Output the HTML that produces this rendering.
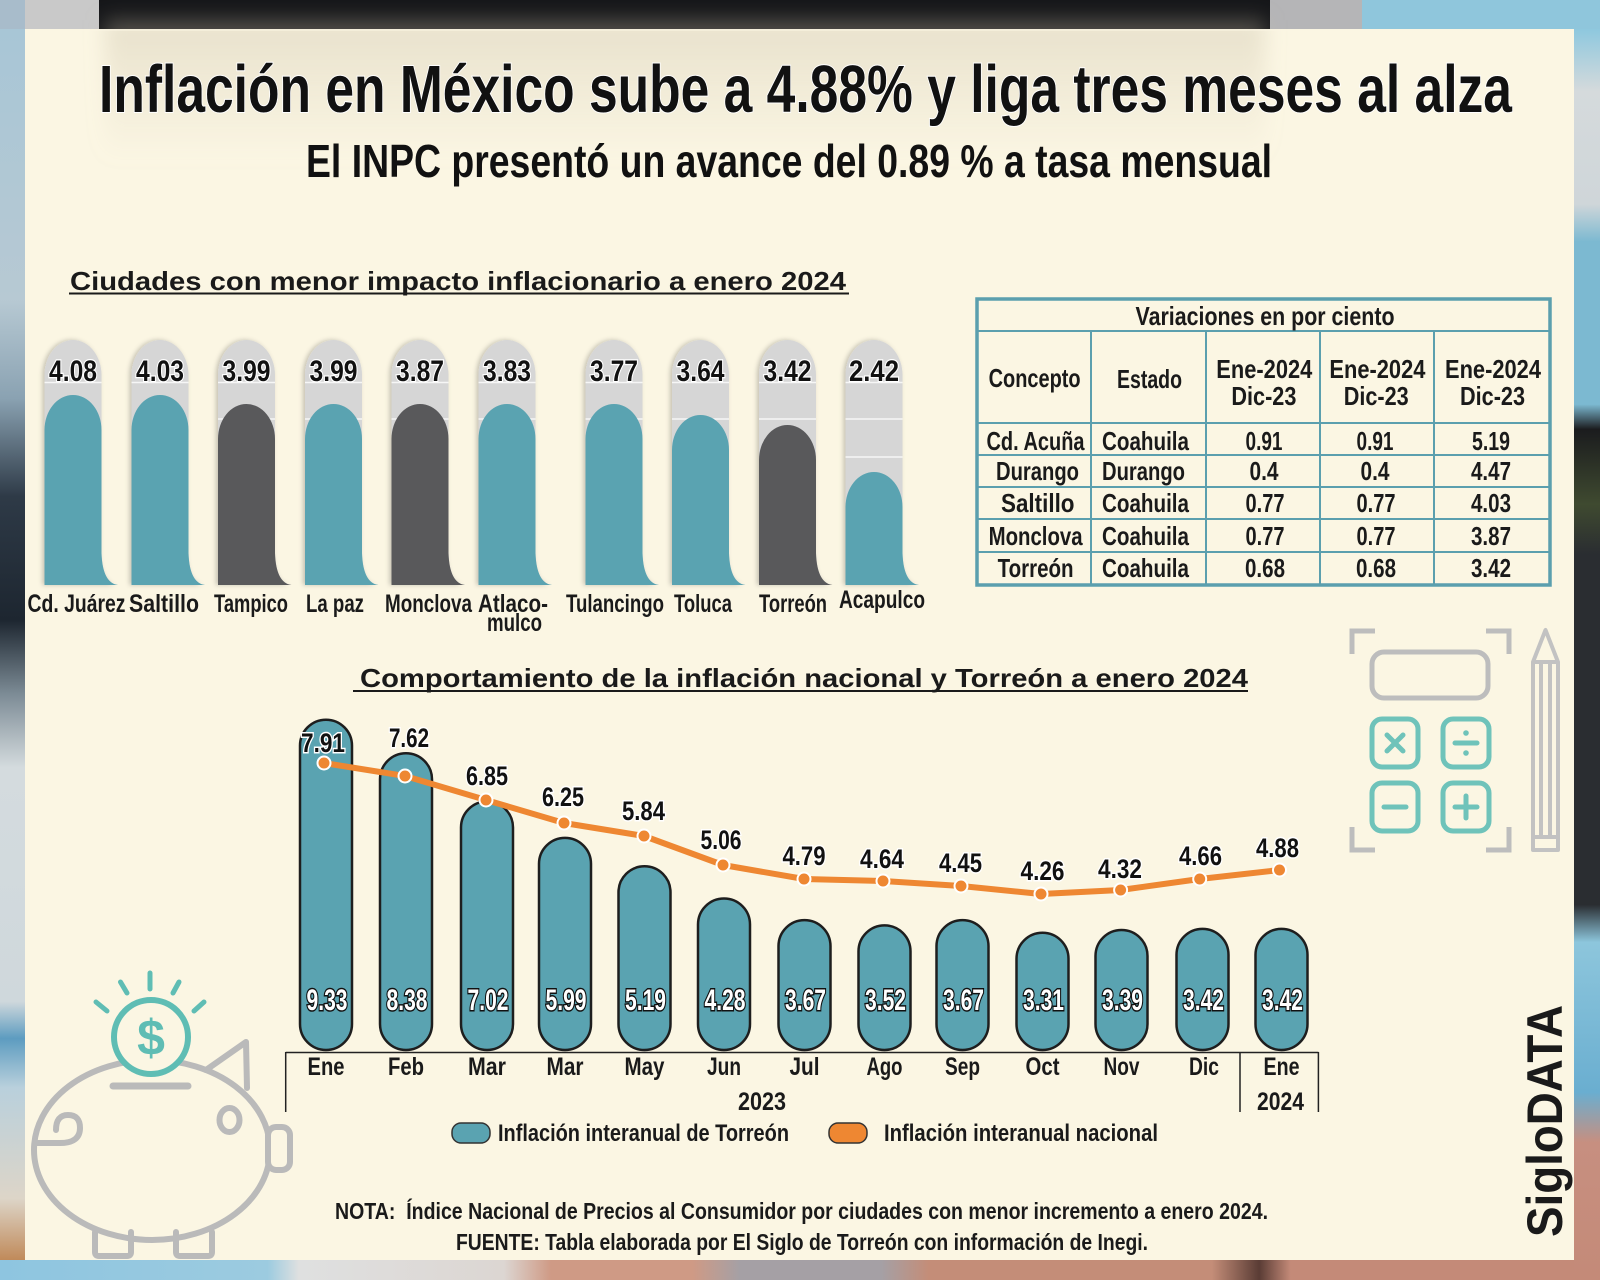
<!DOCTYPE html>
<html><head><meta charset="utf-8"><style>
html,body{margin:0;padding:0;background:#fbf6e3;}
svg{display:block;}
text{font-family:"Liberation Sans Narrow","Liberation Sans",sans-serif;font-weight:bold;}
</style></head><body>
<svg width="1600" height="1280" viewBox="0 0 1600 1280" xmlns="http://www.w3.org/2000/svg">
<defs>
<linearGradient id="gl" x1="0" y1="0" x2="0" y2="1">
<stop offset="0" stop-color="#a8c6d6"/><stop offset="0.22" stop-color="#b7c9d3"/><stop offset="0.3" stop-color="#8aa2b2"/><stop offset="0.38" stop-color="#2e3a47"/><stop offset="0.48" stop-color="#1d2630"/><stop offset="0.54" stop-color="#7c8b95"/><stop offset="0.6" stop-color="#d4dbde"/><stop offset="0.79" stop-color="#cfd8dc"/><stop offset="0.82" stop-color="#5d9cc0"/><stop offset="0.86" stop-color="#b9d0dc"/><stop offset="0.95" stop-color="#ddd5c8"/><stop offset="1" stop-color="#c08a5a"/>
</linearGradient>
<linearGradient id="gr" x1="0" y1="0" x2="0" y2="1">
<stop offset="0" stop-color="#8ec8de"/><stop offset="0.05" stop-color="#d5dadc"/><stop offset="0.14" stop-color="#cfd6d9"/><stop offset="0.17" stop-color="#7cb9d1"/><stop offset="0.3" stop-color="#7cb9d1"/><stop offset="0.32" stop-color="#1b1c1e"/><stop offset="0.38" stop-color="#3f4a30"/><stop offset="0.42" stop-color="#2a2d31"/><stop offset="0.7" stop-color="#2a2d31"/><stop offset="0.73" stop-color="#8dc6dc"/><stop offset="0.85" stop-color="#6aaed0"/><stop offset="0.89" stop-color="#c78f80"/><stop offset="1" stop-color="#c48a78"/>
</linearGradient>
<linearGradient id="gb" x1="0" y1="0" x2="1" y2="0">
<stop offset="0" stop-color="#8ec5e0"/><stop offset="0.17" stop-color="#9ccbe0"/><stop offset="0.19" stop-color="#dfe0e0"/><stop offset="0.32" stop-color="#dcd6d2"/><stop offset="0.35" stop-color="#cf9a85"/><stop offset="0.44" stop-color="#cf9a85"/><stop offset="0.47" stop-color="#a5a0a5"/><stop offset="0.56" stop-color="#a5a0a5"/><stop offset="0.59" stop-color="#c48d78"/><stop offset="0.77" stop-color="#c48d78"/><stop offset="0.8" stop-color="#5a3c35"/><stop offset="0.82" stop-color="#c48a78"/><stop offset="1" stop-color="#c48a78"/>
</linearGradient>
<linearGradient id="gtop" x1="0" y1="0" x2="0" y2="1">
<stop offset="0" stop-color="#c8bea6" stop-opacity="0.38"/><stop offset="0.5" stop-color="#c8bea6" stop-opacity="0.18"/><stop offset="1" stop-color="#c8bea6" stop-opacity="0"/>
</linearGradient>
<filter id="blur" x="-10%" y="-50%" width="120%" height="200%"><feGaussianBlur stdDeviation="10"/></filter>
<filter id="sh" x="-30%" y="-10%" width="160%" height="120%"><feDropShadow dx="-2" dy="0" stdDeviation="2.5" flood-color="#000" flood-opacity="0.22"/></filter>
</defs>

<!-- background -->
<rect x="0" y="0" width="1600" height="1280" fill="#c8c8c8"/>
<rect x="0" y="0" width="25" height="29" fill="#a8bccb"/>
<rect x="25" y="0" width="74" height="29" fill="#c9c9c9"/>
<rect x="99" y="0" width="1171" height="29" fill="#151619"/>
<rect x="1270" y="0" width="92" height="29" fill="#b5b5b7"/>
<rect x="1362" y="0" width="238" height="29" fill="#8fc6dc"/>
<rect x="0" y="29" width="25" height="1231" fill="url(#gl)"/>
<rect x="1574" y="29" width="26" height="1251" fill="url(#gr)"/>
<rect x="0" y="1260" width="1574" height="20" fill="url(#gb)"/>

<!-- panel -->
<rect x="25" y="29" width="1549" height="1231" fill="#fbf6e3"/>
<g clip-path="none">
<rect x="105" y="20" width="1160" height="140" fill="url(#gtop)" filter="url(#blur)"/>
</g>
<rect x="25" y="29" width="1549" height="2" fill="#fbf6e3" opacity="0.5"/>

<!-- titles -->
<text x="99" y="112" font-size="67" textLength="1413" lengthAdjust="spacingAndGlyphs" fill="#111" stroke="#fff" stroke-width="2" paint-order="stroke">Inflación en México sube a 4.88% y liga tres meses al alza</text>
<text x="306" y="177" font-size="46" textLength="966" lengthAdjust="spacingAndGlyphs" fill="#111">El INPC presentó un avance del 0.89 % a tasa mensual</text>

<!-- heading 1 -->
<text x="70" y="290" font-size="26" textLength="776" lengthAdjust="spacingAndGlyphs" fill="#1a1a1a">Ciudades con menor impacto inflacionario a enero 2024</text>
<rect x="69" y="292.5" width="780" height="2" fill="#1a1a1a"/>

<!-- city bars -->
<g filter="url(#sh)" fill="#d6d6d6">
<path d="M44.5,585 L44.5,375 A28.5,35 0 0 1 101.5,375 L101.5,553 Q102.5,583 118,585 Z"/>
<path d="M131.5,585 L131.5,375 A28.5,35 0 0 1 188.5,375 L188.5,553 Q189.5,583 205,585 Z"/>
<path d="M218,585 L218,375 A28.5,35 0 0 1 275,375 L275,553 Q276,583 291.5,585 Z"/>
<path d="M305,585 L305,375 A28.5,35 0 0 1 362,375 L362,553 Q363,583 378.5,585 Z"/>
<path d="M391.5,585 L391.5,375 A28.5,35 0 0 1 448.5,375 L448.5,553 Q449.5,583 465,585 Z"/>
<path d="M478.5,585 L478.5,375 A28.5,35 0 0 1 535.5,375 L535.5,553 Q536.5,583 552,585 Z"/>
<path d="M585.5,585 L585.5,375 A28.5,35 0 0 1 642.5,375 L642.5,553 Q643.5,583 659,585 Z"/>
<path d="M672,585 L672,375 A28.5,35 0 0 1 729,375 L729,553 Q730,583 745.5,585 Z"/>
<path d="M759,585 L759,375 A28.5,35 0 0 1 816,375 L816,553 Q817,583 832.5,585 Z"/>
<path d="M845.5,585 L845.5,375 A28.5,35 0 0 1 902.5,375 L902.5,553 Q903.5,583 919,585 Z"/>
</g>
<g stroke="#f6f6f6" stroke-width="1.5">
<line x1="44.5" x2="101.5" y1="382.5" y2="382.5"/><line x1="131.5" x2="188.5" y1="382.5" y2="382.5"/><line x1="218" x2="275" y1="382.5" y2="382.5"/><line x1="305" x2="362" y1="382.5" y2="382.5"/><line x1="391.5" x2="448.5" y1="382.5" y2="382.5"/><line x1="478.5" x2="535.5" y1="382.5" y2="382.5"/><line x1="585.5" x2="642.5" y1="382.5" y2="382.5"/><line x1="672" x2="729" y1="382.5" y2="382.5"/><line x1="759" x2="816" y1="382.5" y2="382.5"/><line x1="845.5" x2="902.5" y1="382.5" y2="382.5"/>
<line x1="218" x2="275" y1="419" y2="419"/><line x1="305" x2="362" y1="419" y2="419"/><line x1="391.5" x2="448.5" y1="419" y2="419"/><line x1="478.5" x2="535.5" y1="419" y2="419"/><line x1="585.5" x2="642.5" y1="419" y2="419"/><line x1="672" x2="729" y1="419" y2="419"/><line x1="759" x2="816" y1="419" y2="419"/><line x1="845.5" x2="902.5" y1="419" y2="419"/>
<line x1="845.5" x2="902.5" y1="457" y2="457"/>
</g>
<path fill="#5aa3b1" d="M44.5,585 L44.5,430 A28.5,35 0 0 1 101.5,430 L101.5,553 Q102.5,583 118,585 Z"/>
<path fill="#5aa3b1" d="M131.5,585 L131.5,430 A28.5,35 0 0 1 188.5,430 L188.5,553 Q189.5,583 205,585 Z"/>
<path fill="#59595b" d="M218,585 L218,439 A28.5,35 0 0 1 275,439 L275,553 Q276,583 291.5,585 Z"/>
<path fill="#5aa3b1" d="M305,585 L305,439 A28.5,35 0 0 1 362,439 L362,553 Q363,583 378.5,585 Z"/>
<path fill="#59595b" d="M391.5,585 L391.5,439 A28.5,35 0 0 1 448.5,439 L448.5,553 Q449.5,583 465,585 Z"/>
<path fill="#5aa3b1" d="M478.5,585 L478.5,439 A28.5,35 0 0 1 535.5,439 L535.5,553 Q536.5,583 552,585 Z"/>
<path fill="#5aa3b1" d="M585.5,585 L585.5,439 A28.5,35 0 0 1 642.5,439 L642.5,553 Q643.5,583 659,585 Z"/>
<path fill="#5aa3b1" d="M672,585 L672,450 A28.5,35 0 0 1 729,450 L729,553 Q730,583 745.5,585 Z"/>
<path fill="#59595b" d="M759,585 L759,460 A28.5,35 0 0 1 816,460 L816,553 Q817,583 832.5,585 Z"/>
<path fill="#5aa3b1" d="M845.5,585 L845.5,507 A28.5,35 0 0 1 902.5,507 L902.5,553 Q903.5,583 919,585 Z"/>

<g font-size="30" text-anchor="middle" fill="#111" stroke="#fff" stroke-width="2.5" paint-order="stroke">
<text x="73" y="381" textLength="48" lengthAdjust="spacingAndGlyphs">4.08</text>
<text x="160" y="381" textLength="48" lengthAdjust="spacingAndGlyphs">4.03</text>
<text x="246.5" y="381" textLength="48" lengthAdjust="spacingAndGlyphs">3.99</text>
<text x="333.5" y="381" textLength="48" lengthAdjust="spacingAndGlyphs">3.99</text>
<text x="420" y="381" textLength="48" lengthAdjust="spacingAndGlyphs">3.87</text>
<text x="507" y="381" textLength="48" lengthAdjust="spacingAndGlyphs">3.83</text>
<text x="614" y="381" textLength="48" lengthAdjust="spacingAndGlyphs">3.77</text>
<text x="700.5" y="381" textLength="48" lengthAdjust="spacingAndGlyphs">3.64</text>
<text x="787.5" y="381" textLength="48" lengthAdjust="spacingAndGlyphs">3.42</text>
<text x="874" y="381" textLength="50" lengthAdjust="spacingAndGlyphs">2.42</text>
</g>

<g font-size="25" fill="#1a1a1a">
<text x="27.5" y="612" textLength="98" lengthAdjust="spacingAndGlyphs">Cd. Juárez</text>
<text x="129" y="612" textLength="70" lengthAdjust="spacingAndGlyphs">Saltillo</text>
<text x="214" y="612" textLength="74" lengthAdjust="spacingAndGlyphs">Tampico</text>
<text x="306" y="612" textLength="58" lengthAdjust="spacingAndGlyphs">La paz</text>
<text x="385" y="612" textLength="87" lengthAdjust="spacingAndGlyphs">Monclova</text>
<text x="478" y="612" textLength="70" lengthAdjust="spacingAndGlyphs">Atlaco-</text>
<text x="487" y="631" textLength="55" lengthAdjust="spacingAndGlyphs">mulco</text>
<text x="566" y="612" textLength="98" lengthAdjust="spacingAndGlyphs">Tulancingo</text>
<text x="674" y="612" textLength="58" lengthAdjust="spacingAndGlyphs">Toluca</text>
<text x="759" y="612" textLength="68" lengthAdjust="spacingAndGlyphs">Torreón</text>
<text x="839" y="608" textLength="86" lengthAdjust="spacingAndGlyphs">Acapulco</text>
</g>

<!-- table -->
<g stroke="#5b9fae" fill="none">
<rect x="977" y="299" width="573" height="286" stroke-width="3.5"/>
<g stroke-width="2">
<line x1="977" x2="1550" y1="331" y2="331"/>
<line x1="977" x2="1550" y1="423" y2="423"/>
<line x1="977" x2="1550" y1="455" y2="455"/>
<line x1="977" x2="1550" y1="487" y2="487"/>
<line x1="977" x2="1550" y1="519" y2="519"/>
<line x1="977" x2="1550" y1="552" y2="552"/>
<line x1="1091" x2="1091" y1="331" y2="585"/>
<line x1="1206" x2="1206" y1="331" y2="585"/>
<line x1="1320" x2="1320" y1="331" y2="585"/>
<line x1="1434" x2="1434" y1="331" y2="585"/>
</g>
</g>
<g font-size="26" fill="#1a1a1a">
<text x="1135.5" y="325" textLength="259" lengthAdjust="spacingAndGlyphs">Variaciones en por ciento</text>
<text x="988.6" y="387" textLength="92" lengthAdjust="spacingAndGlyphs">Concepto</text>
<text x="1117" y="388" textLength="65" lengthAdjust="spacingAndGlyphs">Estado</text>
<text x="1216.3" y="378" textLength="96" lengthAdjust="spacingAndGlyphs">Ene-2024</text>
<text x="1329.4" y="378" textLength="96" lengthAdjust="spacingAndGlyphs">Ene-2024</text>
<text x="1445" y="378" textLength="96" lengthAdjust="spacingAndGlyphs">Ene-2024</text>
<text x="1231.4" y="405" textLength="65" lengthAdjust="spacingAndGlyphs">Dic-23</text>
<text x="1343.7" y="405" textLength="65" lengthAdjust="spacingAndGlyphs">Dic-23</text>
<text x="1460" y="405" textLength="65" lengthAdjust="spacingAndGlyphs">Dic-23</text>

<text x="986.5" y="450" textLength="98" lengthAdjust="spacingAndGlyphs">Cd. Acuña</text>
<text x="996" y="480" textLength="83" lengthAdjust="spacingAndGlyphs">Durango</text>
<text x="1001" y="512" textLength="73.5" lengthAdjust="spacingAndGlyphs">Saltillo</text>
<text x="988.6" y="545" textLength="94" lengthAdjust="spacingAndGlyphs">Monclova</text>
<text x="997.6" y="577" textLength="76" lengthAdjust="spacingAndGlyphs">Torreón</text>

<text x="1102" y="450" textLength="87" lengthAdjust="spacingAndGlyphs">Coahuila</text>
<text x="1102" y="480" textLength="83" lengthAdjust="spacingAndGlyphs">Durango</text>
<text x="1102" y="512" textLength="87" lengthAdjust="spacingAndGlyphs">Coahuila</text>
<text x="1102" y="545" textLength="87" lengthAdjust="spacingAndGlyphs">Coahuila</text>
<text x="1102" y="577" textLength="87" lengthAdjust="spacingAndGlyphs">Coahuila</text>
</g>
<g font-size="26" fill="#1a1a1a" text-anchor="middle">
<text x="1264" y="450" textLength="37" lengthAdjust="spacingAndGlyphs">0.91</text>
<text x="1264" y="480" textLength="29" lengthAdjust="spacingAndGlyphs">0.4</text>
<text x="1265" y="512" textLength="39" lengthAdjust="spacingAndGlyphs">0.77</text>
<text x="1265" y="545" textLength="39" lengthAdjust="spacingAndGlyphs">0.77</text>
<text x="1265" y="577" textLength="40" lengthAdjust="spacingAndGlyphs">0.68</text>
<text x="1375" y="450" textLength="37" lengthAdjust="spacingAndGlyphs">0.91</text>
<text x="1375" y="480" textLength="29" lengthAdjust="spacingAndGlyphs">0.4</text>
<text x="1376" y="512" textLength="39" lengthAdjust="spacingAndGlyphs">0.77</text>
<text x="1376" y="545" textLength="39" lengthAdjust="spacingAndGlyphs">0.77</text>
<text x="1376" y="577" textLength="40" lengthAdjust="spacingAndGlyphs">0.68</text>
<text x="1491" y="450" textLength="38" lengthAdjust="spacingAndGlyphs">5.19</text>
<text x="1491" y="480" textLength="40" lengthAdjust="spacingAndGlyphs">4.47</text>
<text x="1491" y="512" textLength="40" lengthAdjust="spacingAndGlyphs">4.03</text>
<text x="1491" y="545" textLength="40" lengthAdjust="spacingAndGlyphs">3.87</text>
<text x="1491" y="577" textLength="40" lengthAdjust="spacingAndGlyphs">3.42</text>
</g>

<!-- heading 2 -->
<text x="360" y="687" font-size="26" textLength="888" lengthAdjust="spacingAndGlyphs" fill="#1a1a1a">Comportamiento de la inflación nacional y Torreón a enero 2024</text>
<rect x="353" y="690" width="895" height="2" fill="#1a1a1a"/>

<!-- line chart bars -->
<g fill="#5aa3b1" stroke="#1e1e1e" stroke-width="2.5">
<rect x="300" y="719.7" width="52" height="330.3" rx="26" ry="26"/>
<rect x="380" y="753.3" width="52" height="296.7" rx="26" ry="26"/>
<rect x="461" y="801.5" width="52" height="248.5" rx="26" ry="26"/>
<rect x="539" y="837.9" width="52" height="212.1" rx="26" ry="26"/>
<rect x="618.5" y="866.3" width="52" height="183.7" rx="26" ry="26"/>
<rect x="698" y="898.5" width="52" height="151.5" rx="26" ry="26"/>
<rect x="778.5" y="920.1" width="52" height="129.9" rx="26" ry="26"/>
<rect x="858.5" y="925.4" width="52" height="124.6" rx="26" ry="26"/>
<rect x="936.5" y="920.1" width="52" height="129.9" rx="26" ry="26"/>
<rect x="1016.5" y="932.8" width="52" height="117.2" rx="26" ry="26"/>
<rect x="1095.5" y="930" width="52" height="120" rx="26" ry="26"/>
<rect x="1176.5" y="928.9" width="52" height="121.1" rx="26" ry="26"/>
<rect x="1255.5" y="928.9" width="52" height="121.1" rx="26" ry="26"/>
</g>
<g font-size="30" text-anchor="middle" fill="#fff" stroke="#111" stroke-width="3" paint-order="stroke">
<text x="327" y="1010" textLength="41" lengthAdjust="spacingAndGlyphs">9.33</text>
<text x="407" y="1010" textLength="41" lengthAdjust="spacingAndGlyphs">8.38</text>
<text x="488" y="1010" textLength="41" lengthAdjust="spacingAndGlyphs">7.02</text>
<text x="566" y="1010" textLength="41" lengthAdjust="spacingAndGlyphs">5.99</text>
<text x="645.5" y="1010" textLength="41" lengthAdjust="spacingAndGlyphs">5.19</text>
<text x="725" y="1010" textLength="41" lengthAdjust="spacingAndGlyphs">4.28</text>
<text x="805.5" y="1010" textLength="41" lengthAdjust="spacingAndGlyphs">3.67</text>
<text x="885.5" y="1010" textLength="41" lengthAdjust="spacingAndGlyphs">3.52</text>
<text x="963.5" y="1010" textLength="41" lengthAdjust="spacingAndGlyphs">3.67</text>
<text x="1043.5" y="1010" textLength="41" lengthAdjust="spacingAndGlyphs">3.31</text>
<text x="1122.5" y="1010" textLength="41" lengthAdjust="spacingAndGlyphs">3.39</text>
<text x="1203.5" y="1010" textLength="41" lengthAdjust="spacingAndGlyphs">3.42</text>
<text x="1282.5" y="1010" textLength="41" lengthAdjust="spacingAndGlyphs">3.42</text>
</g>

<!-- national line -->
<polyline fill="none" stroke="#ee8732" stroke-width="6" stroke-linejoin="round" stroke-linecap="round" points="324,763 405,776 486,800 564,823 644,836 723,865 804,879 883,881 961,886 1041,894 1120.6,890 1199.7,879 1279.5,870"/>
<g fill="#ee8732" stroke="#fff" stroke-width="2">
<circle cx="324" cy="763" r="6.5"/><circle cx="405" cy="776" r="6.5"/><circle cx="486" cy="800" r="6.5"/><circle cx="564" cy="823" r="6.5"/><circle cx="644" cy="836" r="6.5"/><circle cx="723" cy="865" r="6.5"/><circle cx="804" cy="879" r="6.5"/><circle cx="883" cy="881" r="6.5"/><circle cx="961" cy="886" r="6.5"/><circle cx="1041" cy="894" r="6.5"/><circle cx="1120.6" cy="890" r="6.5"/><circle cx="1199.7" cy="879" r="6.5"/><circle cx="1279.5" cy="870" r="6.5"/>
</g>
<g font-size="27" text-anchor="middle" fill="#111" stroke="#fff" stroke-width="3" paint-order="stroke">
<text x="323" y="752" textLength="44" lengthAdjust="spacingAndGlyphs">7.91</text>
<text x="409" y="747" textLength="40" lengthAdjust="spacingAndGlyphs">7.62</text>
<text x="487" y="785" textLength="42" lengthAdjust="spacingAndGlyphs">6.85</text>
<text x="563" y="806" textLength="42" lengthAdjust="spacingAndGlyphs">6.25</text>
<text x="643.5" y="820" textLength="43" lengthAdjust="spacingAndGlyphs">5.84</text>
<text x="721" y="849" textLength="41" lengthAdjust="spacingAndGlyphs">5.06</text>
<text x="804" y="865" textLength="43" lengthAdjust="spacingAndGlyphs">4.79</text>
<text x="882" y="868" textLength="44" lengthAdjust="spacingAndGlyphs">4.64</text>
<text x="960.5" y="872" textLength="43" lengthAdjust="spacingAndGlyphs">4.45</text>
<text x="1042.5" y="880" textLength="44" lengthAdjust="spacingAndGlyphs">4.26</text>
<text x="1120" y="878" textLength="44" lengthAdjust="spacingAndGlyphs">4.32</text>
<text x="1200.5" y="865" textLength="43" lengthAdjust="spacingAndGlyphs">4.66</text>
<text x="1277.5" y="857" textLength="43" lengthAdjust="spacingAndGlyphs">4.88</text>
</g>

<!-- axis -->
<g stroke="#222" stroke-width="1.5">
<line x1="285.7" x2="1318.4" y1="1052.5" y2="1052.5"/>
<line x1="285.7" x2="285.7" y1="1052" y2="1112"/>
<line x1="1318.4" x2="1318.4" y1="1052" y2="1112"/>
<line x1="1240" x2="1240" y1="1052" y2="1112"/>
</g>
<g font-size="25" text-anchor="middle" fill="#1a1a1a">
<text x="326" y="1075" textLength="37" lengthAdjust="spacingAndGlyphs">Ene</text>
<text x="406" y="1075" textLength="36" lengthAdjust="spacingAndGlyphs">Feb</text>
<text x="487" y="1075" textLength="38" lengthAdjust="spacingAndGlyphs">Mar</text>
<text x="565" y="1075" textLength="37" lengthAdjust="spacingAndGlyphs">Mar</text>
<text x="644.5" y="1075" textLength="40" lengthAdjust="spacingAndGlyphs">May</text>
<text x="724" y="1075" textLength="34" lengthAdjust="spacingAndGlyphs">Jun</text>
<text x="804.5" y="1075" textLength="30" lengthAdjust="spacingAndGlyphs">Jul</text>
<text x="884.5" y="1075" textLength="36" lengthAdjust="spacingAndGlyphs">Ago</text>
<text x="962.5" y="1075" textLength="35" lengthAdjust="spacingAndGlyphs">Sep</text>
<text x="1042.5" y="1075" textLength="34" lengthAdjust="spacingAndGlyphs">Oct</text>
<text x="1121.5" y="1075" textLength="36" lengthAdjust="spacingAndGlyphs">Nov</text>
<text x="1204" y="1075" textLength="30" lengthAdjust="spacingAndGlyphs">Dic</text>
<text x="1281.5" y="1075" textLength="36" lengthAdjust="spacingAndGlyphs">Ene</text>
<text x="762" y="1110" textLength="48" lengthAdjust="spacingAndGlyphs">2023</text>
<text x="1280.5" y="1110" textLength="47" lengthAdjust="spacingAndGlyphs">2024</text>
</g>

<!-- legend -->
<rect x="452" y="1123" width="38" height="20" rx="9" fill="#5aa3b1" stroke="#333" stroke-width="1.5"/>
<rect x="829" y="1123" width="38" height="20" rx="9" fill="#ee8732" stroke="#333" stroke-width="1.5"/>
<g font-size="24" fill="#1a1a1a">
<text x="498" y="1141" textLength="291" lengthAdjust="spacingAndGlyphs">Inflación interanual de Torreón</text>
<text x="884" y="1141" textLength="274" lengthAdjust="spacingAndGlyphs">Inflación interanual nacional</text>
</g>

<!-- notes -->
<g font-size="23" fill="#1a1a1a">
<text x="335" y="1219" textLength="933" lengthAdjust="spacingAndGlyphs">NOTA:&#160; Índice Nacional de Precios al Consumidor por ciudades con menor incremento a enero 2024.</text>
<text x="456" y="1250" textLength="692" lengthAdjust="spacingAndGlyphs">FUENTE: Tabla elaborada por El Siglo de Torreón con información de Inegi.</text>
</g>

<!-- SigloDATA -->
<text transform="translate(1562,1237) rotate(-90)" font-size="50" textLength="232" lengthAdjust="spacingAndGlyphs" fill="#1a1a1a">SigloDATA</text>

<!-- calculator icon -->
<g fill="none" stroke="#bdbdbd" stroke-width="5" stroke-linecap="butt">
<path d="M1352,654 L1352,631 L1375,631"/>
<path d="M1486,631 L1509,631 L1509,654"/>
<path d="M1352,827 L1352,850 L1375,850"/>
<path d="M1486,850 L1509,850 L1509,827"/>
<rect x="1372" y="652" width="116" height="46" rx="12"/>
</g>
<g fill="none" stroke="#6fc3ba" stroke-width="5" stroke-linecap="round">
<rect x="1372" y="719" width="46" height="48" rx="10"/>
<rect x="1443" y="719" width="46" height="48" rx="10"/>
<rect x="1372" y="783" width="46" height="48" rx="10"/>
<rect x="1443" y="783" width="46" height="48" rx="10"/>
<line x1="1387" y1="735" x2="1403" y2="751"/><line x1="1403" y1="735" x2="1387" y2="751"/>
<line x1="1455" y1="743" x2="1477" y2="743"/>
<line x1="1384" y1="807" x2="1406" y2="807"/>
<line x1="1455" y1="807" x2="1477" y2="807"/><line x1="1466" y1="796" x2="1466" y2="818"/>
</g>
<circle cx="1466" cy="733" r="2.8" fill="#6fc3ba"/><circle cx="1466" cy="753" r="2.8" fill="#6fc3ba"/>
<g fill="none" stroke="#c2c2c2" stroke-width="4" stroke-linejoin="round">
<path d="M1545.5,630 L1533,662 L1533,850 L1558,850 L1558,662 Z"/>
<line x1="1533" y1="662" x2="1558" y2="662"/>
<line x1="1541" y1="662" x2="1541" y2="837"/>
<line x1="1550" y1="662" x2="1550" y2="837"/>
<line x1="1533" y1="837" x2="1558" y2="837"/>
</g>

<!-- piggy bank -->
<g fill="none" stroke="#bababa" stroke-width="6" stroke-linecap="round" stroke-linejoin="round">
<ellipse cx="152" cy="1150" rx="118" ry="90"/>
<path d="M206,1070 L246,1042 L247,1088"/>
<rect x="268" y="1127" width="22" height="43" rx="8" fill="#fbf6e3"/>
<ellipse cx="229.5" cy="1120" rx="10" ry="12"/>
<path d="M36,1143 L60,1143 Q80,1143 80,1128 Q80,1115 68,1115 Q56,1115 56,1130"/>
<path d="M95,1232 L95,1252 Q95,1256 99,1256 L127,1256 Q131,1256 131,1252 L131,1232"/>
<path d="M176,1232 L176,1252 Q176,1256 180,1256 L208,1256 Q212,1256 212,1252 L212,1232"/>
<line x1="113" y1="1086" x2="188" y2="1086" stroke-width="7"/>
</g>
<circle cx="151" cy="1037" r="37" fill="#fbf6e3" stroke="#5fbdb4" stroke-width="6"/>
<text x="151" y="1055" font-size="50" text-anchor="middle" fill="#5fbdb4" font-family="Liberation Sans, sans-serif">$</text>
<g stroke="#5fbdb4" stroke-width="5" stroke-linecap="round">
<line x1="150" y1="973" x2="150" y2="989"/>
<line x1="120.5" y1="982" x2="127" y2="993"/>
<line x1="179" y1="982" x2="173" y2="993"/>
<line x1="96" y1="1002" x2="107" y2="1011"/>
<line x1="204" y1="1002" x2="194" y2="1011"/>
</g>
</svg>
</body></html>
